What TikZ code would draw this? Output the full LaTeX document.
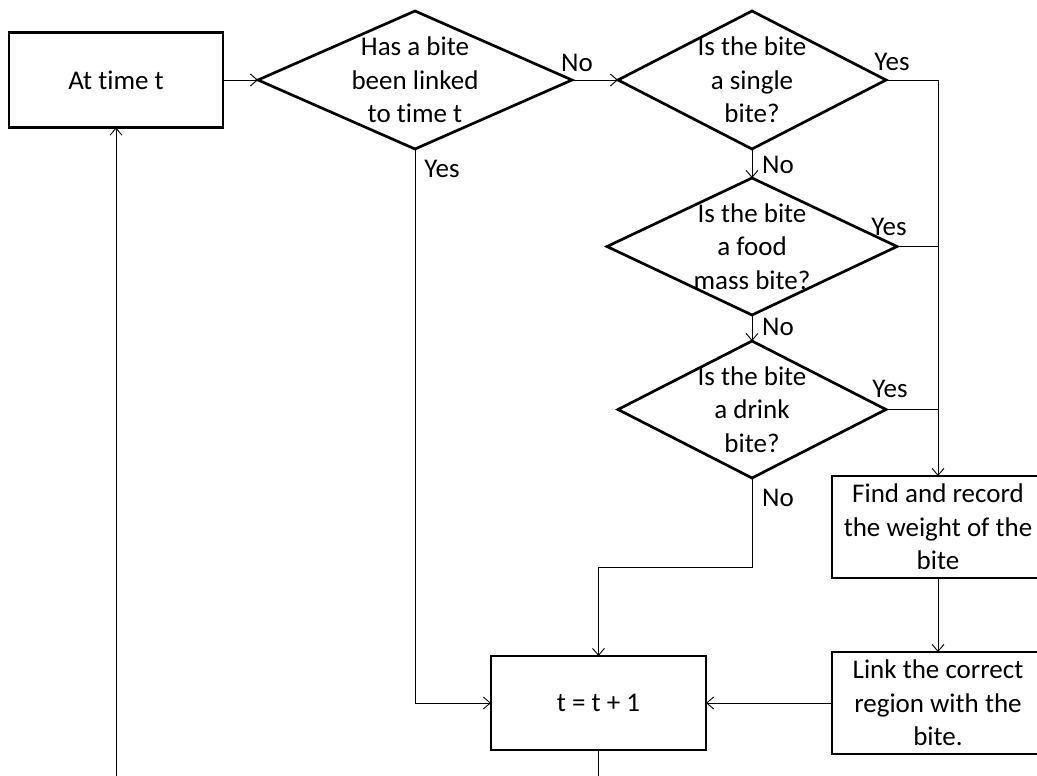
\documentclass[tikz,border=0pt]{standalone}
\usepackage{fontspec}
\setmainfont{Carlito}[Ligatures=NoCommon]
\usepackage{tikz}
\usetikzlibrary{positioning,calc,shapes.geometric,arrows.meta}

\begin{document}
\begin{tikzpicture}[x=1pt, y=-1pt, line width=0.9pt,
    every node/.style={font=\fontsize{27}{33.5}\selectfont},
    >={Straight Barb[length=7pt,width=12pt]}]
  \tikzstyle{stepbox}=[draw, line width=2.7pt, minimum width=214pt, minimum height=95pt, align=center, inner sep=0pt, outer sep=0pt]
  \tikzstyle{decision}=[draw, diamond, line width=2.7pt, inner sep=0pt, outer sep=0pt, minimum height=138pt]
  \tikzstyle{lbl}=[inner sep=0pt]
  \useasboundingbox (0,0) rectangle (1037,776);
  \clip (0,0) rectangle (1037,776);

  \node[stepbox] (at1) at (116,80) {At time t};
  \node[decision, minimum width=314pt, right=35pt of at1,
        label={[align=center]center:Has a bite\\been linked\\to time t}] (d1) {};
  \node[decision, minimum width=268pt, right=46pt of d1,
        label={[align=center]center:Is the bite\\a single\\bite?}] (d2) {};
  \node[decision, minimum width=290pt, minimum height=137pt, below=29pt of d2,
        label={[align=center]center:Is the bite\\a food\\mass bite?}] (d3) {};
  \node[decision, minimum width=268pt, minimum height=137pt, below=26pt of d3,
        label={[align=center]center:Is the bite\\a drink\\bite?}] (d4) {};
  \node[stepbox, minimum width=212pt, minimum height=102pt] (find) at (938,527) {Find and record\\the weight of the\\bite};
  \node[stepbox, minimum width=212pt, minimum height=102pt, below=74pt of find] (link) {Link the correct\\region with the\\bite.};
  \node[stepbox, minimum width=215pt, minimum height=94pt, left=126pt of link] (tt) {t = t + 1};
  \coordinate (bot) at (0,790);

  \draw[->] (at1) -- (d1);
  \draw[->] (d1.east) -- (d2.west);
  \draw[->] (d2.south) -- (d3.north);
  \draw[->] (d3.south) -- (d4.north);
  \draw[->] (d2.east) -- (d2.east -| find.north) -- (find.north);
  \draw (d3.east) -- (d3.east -| find.north);
  \draw (d4.east) -- (d4.east -| find.north);
  \draw[->] (find) -- (link);
  \draw[->] (link) -- (tt);
  \draw[->] (d4.south) -- ++(0,89) -| (tt.north);
  \draw[->] (d1.south) |- (tt.west);
  \draw (tt.south) -- (tt.south |- bot);
  \draw[->] (at1.south |- bot) -- (at1.south);

  \node[lbl] (no1) at ($(d1.east)+(5,-17)$) {No};
  \node[lbl] (yes1) at ($(d1.south)+(27,20)$) {Yes};
  \node[lbl] (yes2) at ($(d2.east)+(6,-18)$) {Yes};
  \node[lbl] (no2) at ($(d2.south)+(26,16)$) {No};
  \node[lbl] (yes3) at ($(d3.east)+(-8,-20)$) {Yes};
  \node[lbl] (no3) at ($(d3.south)+(26,12)$) {No};
  \node[lbl] (yes4) at ($(d4.east)+(4,-21)$) {Yes};
  \node[lbl] (no4) at ($(d4.south)+(26,20)$) {No};
\end{tikzpicture}
\end{document}
